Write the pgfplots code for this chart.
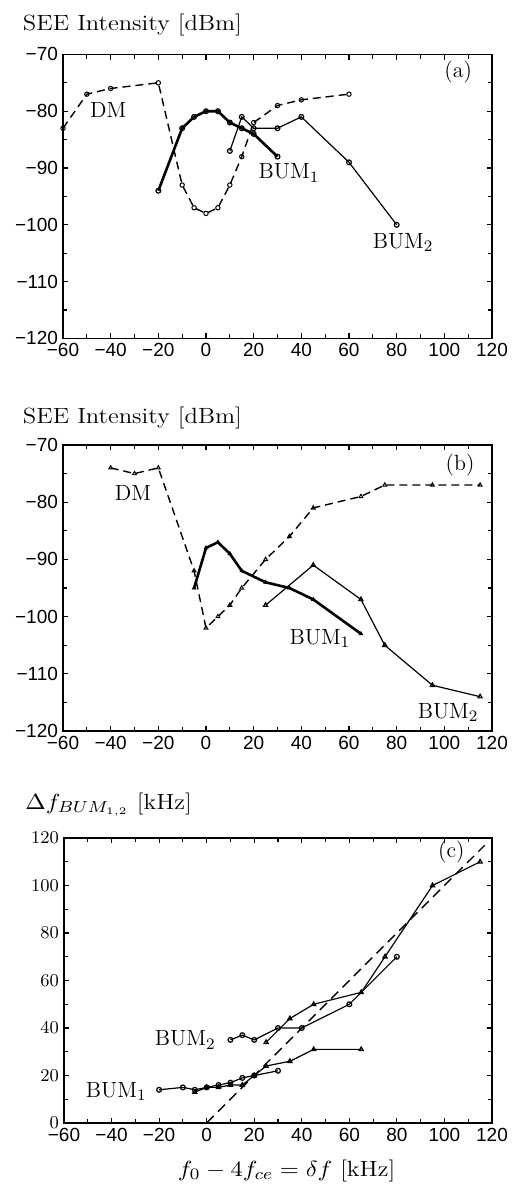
\documentclass[border=0pt]{standalone}
\usepackage{fontspec}
\usepackage{graphicx}
\usepackage{pgfplots}
\pgfplotsset{compat=1.18}
\newfontfamily\tickfont{Liberation Sans}
\newcommand{\lab}{\fontsize{11}{13}\selectfont}
\pgfplotsset{
  panel/.style={
    scale only axis, width=214.5pt, height=142pt,
    anchor=north west, clip=false,
    xmin=-60, xmax=120,
    xtick={-60,-40,...,120},
    xticklabels={−60,−40,−20,0,20,40,60,80,100,120},
    minor x tick num=1, minor y tick num=1,
    tick pos=both, tick align=inside,
    major tick length=2.6pt, minor tick length=2.2pt,
    every tick/.style={black, line width=0.6pt},
    axis line style={line width=0.8pt},
    tick label style={font=\fontsize{9.5}{11}\tickfont},
    xticklabel style={yshift=1pt},
    yticklabel style={xshift=1pt},
  },
  dbm/.style={ymin=-120, ymax=-70, ytick={-120,-110,...,-70},
    yticklabels={−120,−110,−100,−90,−80,−70}},
  thickl/.style={black, line width=1.3pt, mark size=1.2pt, mark options={solid, line width=0.6pt, fill=white}},
  thinl/.style={black, line width=0.6pt, mark size=1.2pt, mark options={solid, line width=0.6pt, fill=white}},
  dashl/.style={black, line width=0.7pt, dash pattern=on 4pt off 2.5pt, mark size=1.1pt, mark options={solid, line width=0.5pt, fill=white}},
}
\begin{document}
\begin{tikzpicture}
\useasboundingbox (0,0) rectangle (255.5pt,-594.5pt);
% ---------- (a)
\node[anchor=base west, inner sep=0pt] at (11.3pt,-15pt) {\scalebox{1.12}[1]{\lab SEE Intensity [dBm]}};
\begin{axis}[panel, dbm, at={(31.5pt,-27.2pt)}]
\addplot[dashl, mark=o] coordinates {(-60,-83) (-50,-77) (-40,-76) (-20,-75) (-10,-93) (-5,-97) (0,-98) (5,-97) (10,-93) (15,-88) (20,-82) (30,-79) (40,-78) (60,-77)};
\addplot[thickl, mark=o] coordinates {(-20,-94) (-10,-83) (-5,-81) (0,-80) (5,-80) (10,-82) (15,-83) (20,-84) (30,-88)};
\addplot[thinl, mark=o] coordinates {(10,-87) (15,-81) (20,-83) (30,-83) (40,-81) (60,-89) (80,-100)};
\node[font=\lab] at (axis cs:105.8,-73.1) {(a)};
\node[font=\lab] at (axis cs:-41,-79.8) {DM};
\node[font=\lab] at (axis cs:34.8,-90.9) {BUM$_1$};
\node[font=\lab] at (axis cs:82.7,-103.1) {BUM$_2$};
\end{axis}
% ---------- (b)
\node[anchor=base west, inner sep=0pt] at (11.3pt,-211.5pt) {\scalebox{1.12}[1]{\lab SEE Intensity [dBm]}};
\begin{axis}[panel, dbm, at={(31.5pt,-222.5pt)}, height=143pt]
\addplot[dashl, mark=triangle] coordinates {(-40,-74) (-30,-75) (-20,-74) (-5,-92) (0,-102) (5,-100) (10,-98) (15,-95) (25,-90) (35,-86) (45,-81) (65,-79) (75,-77) (95,-77) (115,-77)};
\addplot[thickl, mark=triangle*, mark size=1pt, mark options={fill=black, line width=0.4pt}] coordinates {(-5,-95) (0,-88) (5,-87) (10,-89) (15,-92) (25,-94) (35,-95) (45,-97) (65,-103)};
\addplot[thinl, mark=triangle] coordinates {(25,-98) (45,-91) (65,-97) (75,-105) (95,-112) (115,-114)};
\node[font=\lab] at (axis cs:106.6,-73.5) {(b)};
\node[font=\lab] at (axis cs:-30.6,-78.4) {DM};
\node[font=\lab] at (axis cs:47.8,-103.8) {BUM$_1$};
\node[font=\lab] at (axis cs:101.6,-116.7) {BUM$_2$};
\end{axis}
% ---------- (c)
\node[anchor=base west, inner sep=0pt] at (12.5pt,-404.5pt) {\scalebox{1.12}[1]{\lab $\Delta f_{BUM_{1,2}}$ [kHz]}};
\begin{axis}[panel, at={(32pt,-419pt)}, height=142.5pt, width=214pt,
  ymin=0, ymax=120, ytick={0,20,...,120}]
\addplot[dashl, dash pattern=on 5pt off 3pt] coordinates {(0,0) (117,117)};
\addplot[thinl, mark=o] coordinates {(-20,14) (-10,15) (-5,14) (0,15) (5,16) (10,17) (15,19) (20,20) (30,22)};
\addplot[thinl, mark=triangle] coordinates {(-5,13) (0,15) (5,15) (10,16) (15,16) (20,20) (25,24) (35,26) (45,31) (65,31)};
\addplot[thinl, mark=o] coordinates {(10,35) (15,37) (20,35) (30,40) (40,40) (60,50) (80,70)};
\addplot[thinl, mark=triangle] coordinates {(25,34) (35,44) (45,50) (65,55) (75,70) (95,100) (115,110)};
\node[font=\lab] at (axis cs:102.9,114.2) {(c)};
\node[font=\lab] at (axis cs:-9,35) {BUM$_2$};
\node[font=\lab] at (axis cs:-38,13.2) {BUM$_1$};
\end{axis}
\node[anchor=base] at (143.3pt,-588pt) {\scalebox{1.12}[1]{\lab $f_0-4f_{ce}=\delta f$ [kHz]}};
\end{tikzpicture}
\end{document}
